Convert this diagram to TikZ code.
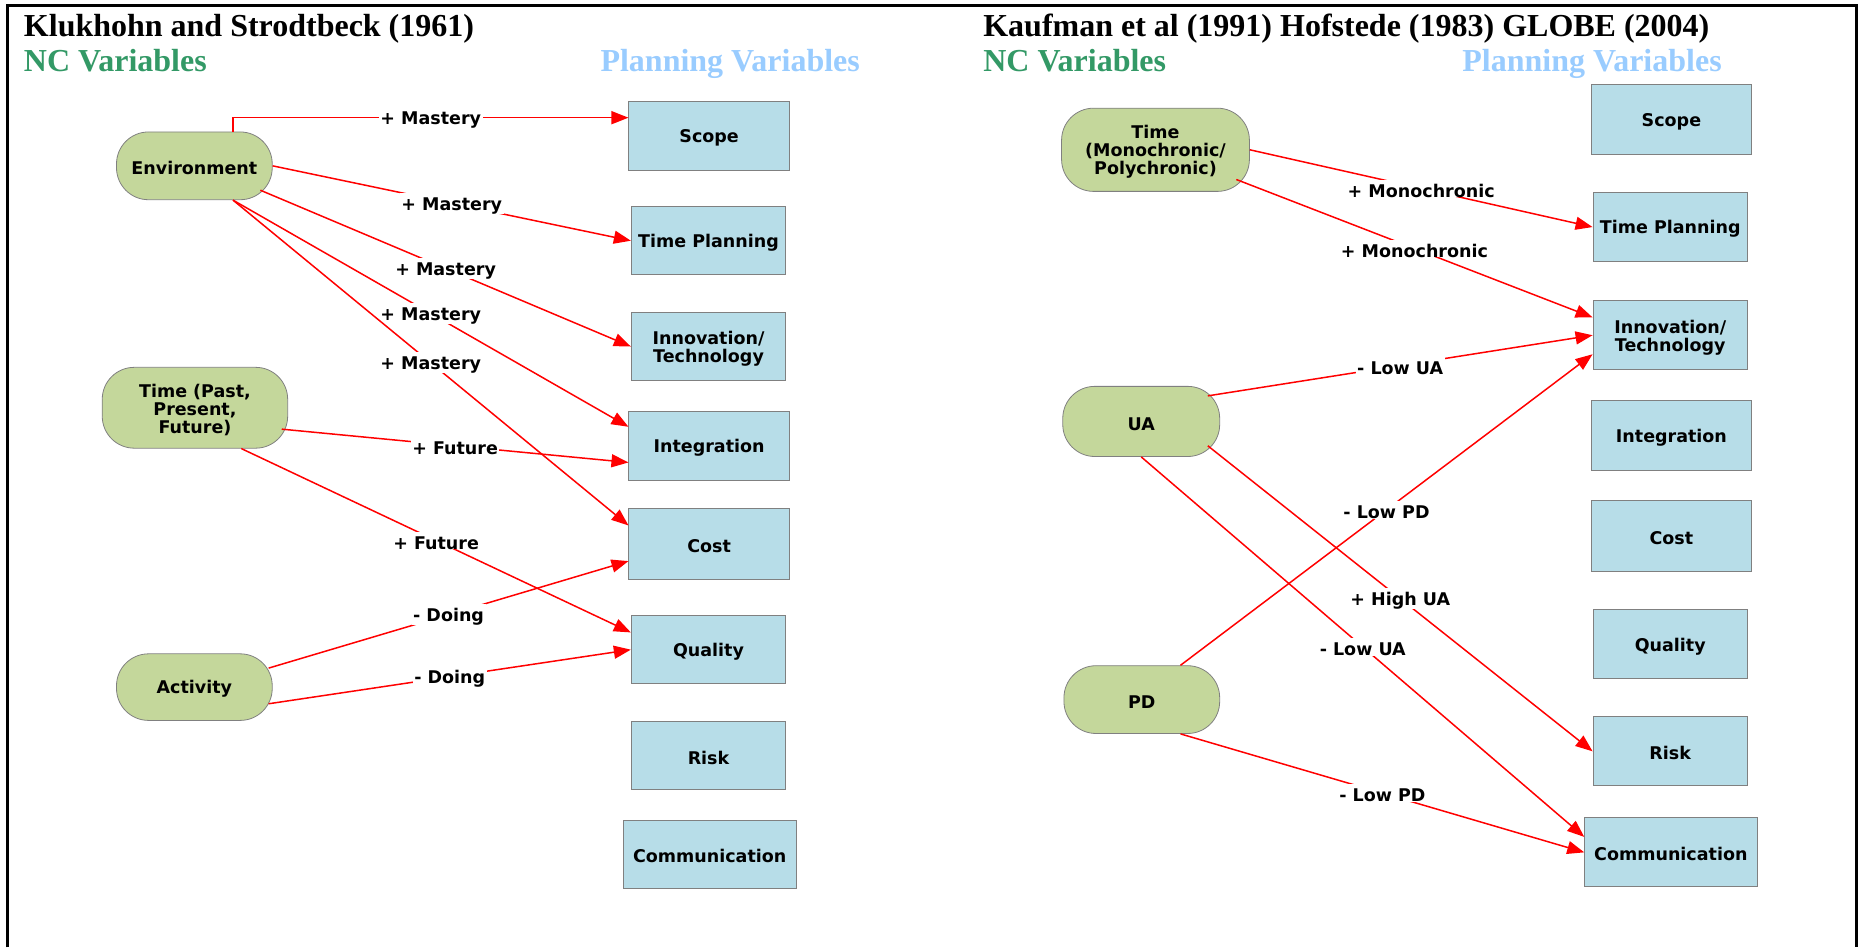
\documentclass[tikz,border=0pt]{standalone}
\usepackage{fontspec}
\setmainfont{Liberation Serif}
\newfontfamily\dvsans{DejaVu Sans}
\usetikzlibrary{arrows.meta,calc}
\definecolor{ncgreen}{RGB}{51,153,102}
\definecolor{plblue}{RGB}{153,204,255}
\definecolor{boxfill}{RGB}{183,221,232}
\definecolor{ncfill}{RGB}{196,215,155}
\definecolor{bordergray}{RGB}{128,128,128}
% raises the first line's height so the text block sits a little lower
\newcommand{\firstline}{\rule{0pt}{17.5pt}}
\begin{document}
\begin{tikzpicture}[x=1.189pt,y=-1.189pt,
  heading/.style={anchor=base west,inner sep=0pt,font=\fontsize{32}{36}\selectfont\bfseries},
  sz/.style 2 args={minimum width={#1*1.189pt},minimum height={#2*1.189pt}},
  sanstext/.style={font=\dvsans\bfseries\fontsize{17.5}{18}\selectfont},
  ncvar/.style={sanstext,draw=bordergray,line width=0.8pt,fill=ncfill,rounded corners=32pt,inner sep=0pt,align=center},
  plvar/.style={sanstext,draw=bordergray,line width=0.8pt,fill=boxfill,inner sep=0pt,align=center},
  link/.style={draw=red,line width=1.5pt,-{Triangle[length=17pt,width=13pt]}},
  lbl/.style={sanstext,fill=white,inner xsep=1.5pt,inner ysep=0pt,text=black,
    execute at begin node={\firstline}}
]
\useasboundingbox (0,0) rectangle (1568,797);

% open frame
\draw[line width=3pt] (6.7,797) -- (6.7,5) -- (1561.8,5) -- (1561.8,797);

% ---------- left panel ----------
\node[heading] (titleL) at (20,30.3) {Klukhohn and Strodtbeck (1961)};
\node[heading,text=ncgreen] (ncL) at (20,60.3) {NC Variables};
\node[heading,text=plblue] (plL) at (505,60.3) {Planning Variables};

\node[ncvar,sz={131}{57}] (env) at (163.5,139.5) {\firstline Environment};
\node[ncvar,sz={156}{68}] (timeL) at (164,343) {\firstline Time (Past,\\Present,\\Future)};
\node[ncvar,sz={131}{56}] (act) at (163.5,578) {\firstline Activity};

\node[plvar,sz={135}{58}] (scopeL) at (596.5,114) {\firstline Scope};
\node[plvar,sz={130}{57}] (tpL) at (596,202.5) {\firstline Time Planning};
\node[plvar,sz={130}{57}] (innL) at (596,291.5) {\firstline Innovation/\\Technology};
\node[plvar,sz={135}{58}] (intL) at (596.5,375) {\firstline Integration};
\node[plvar,sz={135}{59}] (costL) at (596.5,457.5) {\firstline Cost};
\node[plvar,sz={130}{57}] (qualL) at (596,546.5) {\firstline Quality};
\node[plvar,sz={130}{57}] (riskL) at (596,635.5) {\firstline Risk};
\node[plvar,sz={146}{57}] (commL) at (597,718.5) {\firstline Communication};

\draw[link] ($(env.north)+(32.5,0)$) |- ($(scopeL.west)+(0,-15)$) node[lbl,pos=0.75] (m1) {+ Mastery};
\draw[link] (env.east) -- node[lbl] (m2) {+ Mastery} (tpL.west);
\draw[link] ($(env.center)+(55.5,20.5)$) -- node[lbl] (m3) {+ Mastery} (innL.west);
\draw[link] ($(env.south)+(32.5,0)$) -- node[lbl] (m4) {+ Mastery} ($(intL.west)+(0,-16)$);
\draw[link] ($(env.south)+(32.5,0)$) -- node[lbl] (m5) {+ Mastery} ($(costL.west)+(0,-15.5)$);
\draw[link] ($(timeL.center)+(73,18)$) -- node[lbl] (f1) {+ Future} ($(intL.west)+(0,14)$);
\draw[link] ($(timeL.south)+(39,0)$) -- node[lbl] (f2) {+ Future} ($(qualL.west)+(0,-14.5)$);
\draw[link] ($(act.center)+(62.5,-16)$) -- node[lbl] (d1) {- Doing} ($(costL.west)+(0,14.5)$);
\draw[link] ($(act.center)+(62.5,14)$) -- node[lbl] (d2) {- Doing} (qualL.west);

% ---------- right panel ----------
\node[heading] (titleR) at (827,30.3) {Kaufman et al (1991) Hofstede (1983) GLOBE (2004)};
\node[heading,text=ncgreen] (ncR) at (827,60.3) {NC Variables};
\node[heading,text=plblue] (plR) at (1230,60.3) {Planning Variables};

\node[ncvar,sz={158}{70}] (timeR) at (972,126) {\firstline Time\\(Monochronic/\\Polychronic)};
\node[ncvar,sz={132}{59}] (ua) at (960,354.5) {\firstline UA};
\node[ncvar,sz={131}{57}] (pd) at (960.5,588.5) {\firstline PD};

\node[plvar,sz={134}{59}] (scopeR) at (1406,100.5) {\firstline Scope};
\node[plvar,sz={130}{58}] (tpR) at (1405,191) {\firstline Time Planning};
\node[plvar,sz={130}{58}] (innR) at (1405,282) {\firstline Innovation/\\Technology};
\node[plvar,sz={134}{59}] (intR) at (1406,366.5) {\firstline Integration};
\node[plvar,sz={134}{60}] (costR) at (1406,451) {\firstline Cost};
\node[plvar,sz={130}{58}] (qualR) at (1405,542) {\firstline Quality};
\node[plvar,sz={130}{58}] (riskR) at (1405,632) {\firstline Risk};
\node[plvar,sz={145}{58}] (commR) at (1405.5,717) {\firstline Communication};

\draw[link] (timeR.east) -- node[lbl] (r1) {+ Monochronic} (tpR.west);
\draw[link] ($(timeR.center)+(68,25)$) -- node[lbl] (r2) {+ Monochronic} ($(innR.west)+(0,-15)$);
\draw[link] ($(ua.center)+(56,-21.5)$) -- node[lbl] (r3) {- Low UA} (innR.west);
\draw[link] ($(pd.north)+(32.5,0)$) -- node[lbl] (r4) {- Low PD} ($(innR.west)+(0,16)$);
\draw[link] ($(ua.center)+(56,20.5)$) -- node[lbl] (r5) {+ High UA} (riskR.west);
\draw[link] (ua.south) -- node[lbl] (r6) {- Low UA} ($(commR.west)+(0,-13)$);
\draw[link] ($(pd.south)+(32.5,0)$) -- node[lbl] (r7) {- Low PD} (commR.west);
\end{tikzpicture}
\end{document}
